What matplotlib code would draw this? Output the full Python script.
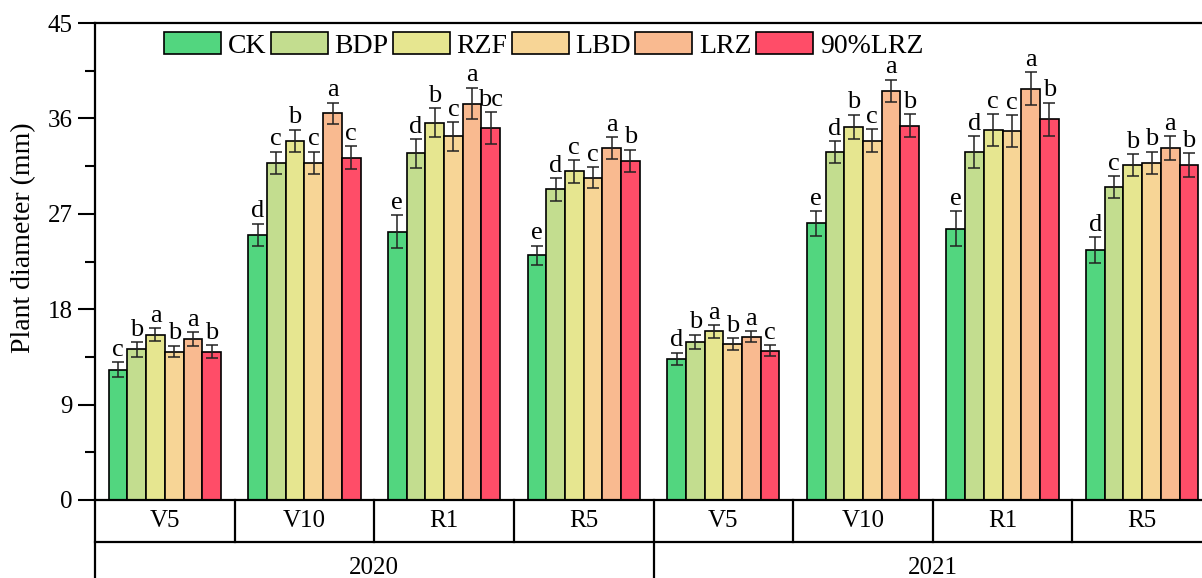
import numpy as np
import matplotlib
matplotlib.use("Agg")
import matplotlib.pyplot as plt
import matplotlib.transforms as mtransforms

plt.rcParams["font.family"] = ["Liberation Serif", "DejaVu Serif"]
plt.rcParams["mathtext.fontset"] = "stix"

# growth stages per year
stages = ["V5", "V10", "R1", "R5", "V5", "V10", "R1", "R5"]
years = ["2020", "2021"]
treatments = ["CK", "BDP", "RZF", "LBD", "LRZ", "90%LRZ"]

# plant diameter means (mm) per treatment, one value per stage/year group
ck = [12.3, 25.0, 25.3, 23.1, 13.3, 26.1, 25.6, 23.6]
bdp = [14.2, 31.8, 32.7, 29.3, 14.9, 32.8, 32.8, 29.5]
rzf = [15.6, 33.9, 35.6, 31.0, 15.9, 35.2, 34.9, 31.6]
lbd = [14.0, 31.8, 34.3, 30.4, 14.7, 33.9, 34.8, 31.8]
lrz = [15.2, 36.5, 37.4, 33.2, 15.4, 38.6, 38.8, 33.2]
lrz90 = [14.0, 32.3, 35.1, 32.0, 14.1, 35.3, 35.9, 31.6]

# standard deviations
ck_sd = [0.70, 1.05, 1.55, 0.90, 0.60, 1.15, 1.65, 1.20]
bdp_sd = [0.70, 1.05, 1.35, 1.05, 0.70, 1.05, 1.50, 1.05]
rzf_sd = [0.60, 1.05, 1.35, 1.05, 0.60, 1.15, 1.50, 1.05]
lbd_sd = [0.55, 1.05, 1.35, 1.00, 0.55, 1.10, 1.50, 1.05]
lrz_sd = [0.65, 1.00, 1.50, 1.00, 0.50, 1.05, 1.55, 1.10]
lrz90_sd = [0.60, 1.05, 1.50, 1.05, 0.50, 1.10, 1.60, 1.10]

# significance letters
ck_sig = ["c", "d", "e", "e", "d", "e", "e", "d"]
bdp_sig = ["b", "c", "d", "d", "b", "d", "d", "c"]
rzf_sig = ["a", "b", "b", "c", "a", "b", "c", "b"]
lbd_sig = ["b", "c", "c", "c", "b", "c", "c", "b"]
lrz_sig = ["a", "a", "a", "a", "a", "a", "a", "a"]
lrz90_sig = ["b", "c", "bc", "b", "c", "b", "b", "b"]

means = [ck, bdp, rzf, lbd, lrz, lrz90]
sds = [ck_sd, bdp_sd, rzf_sd, lbd_sd, lrz_sd, lrz90_sd]
sigs = [ck_sig, bdp_sig, rzf_sig, lbd_sig, lrz_sig, lrz90_sig]
colors = ["#52D67F", "#C3DD8F", "#E6E690", "#F7D596", "#F9BA90", "#FF4D68"]

fs = 18
W, H = 1202, 578
fig = plt.figure(figsize=(W / 100, H / 100), dpi=100)
ax = fig.add_axes([95 / W, 78 / H, (1212 - 95) / W, 477 / H])

x = np.arange(len(stages))
width = 0.134
for j, (m, sd, sig, c, name) in enumerate(zip(means, sds, sigs, colors, treatments)):
    pos = x + (j - 2.5) * width
    ax.bar(pos, m, width, color=c, edgecolor="black", linewidth=1.2, label=name, zorder=2)
    ax.errorbar(pos, m, yerr=sd, fmt="none", ecolor="#222222", elinewidth=1.1,
                capsize=4.3, capthick=1.1, zorder=3)
    for xi, yi, ei, s in zip(pos, m, sd, sig):
        ax.annotate(s, (xi, yi + ei), xytext=(0, 1), textcoords="offset points",
                    ha="center", va="bottom", fontsize=19)

ax.set_xlim(-0.5, 7.5)
ax.set_ylim(0, 45)
ax.set_yticks(np.arange(0, 46, 9))
ax.set_yticks(np.arange(0, 46, 4.5), minor=True)
ax.tick_params(axis="y", which="major", direction="out", length=12, width=1.5,
               labelsize=fs, pad=4)
ax.tick_params(axis="y", which="minor", direction="out", length=7, width=1.5)
ax.set_xticks([])
for sp in ax.spines.values():
    sp.set_linewidth(1.6)
ax.set_ylabel("Plant diameter (mm)", fontsize=20)
ax.yaxis.set_label_coords(-0.053, 262 / 477)

# two-level category axis below the plot
tr = mtransforms.blended_transform_factory(ax.transData, ax.transAxes)
row1 = -42 / 477
lk = dict(color="black", lw=1.6, transform=tr, clip_on=False)
ax.plot([-0.5, 7.5], [row1, row1], **lk)
ax.plot([-0.5, -0.5], [0, -0.3], **lk)
ax.plot([3.5, 3.5], [0, -0.3], **lk)
for b in [0.5, 1.5, 2.5, 4.5, 5.5, 6.5, 7.5]:
    ax.plot([b, b], [0, row1], **lk)
for xi, s in zip(x, stages):
    ax.text(xi, row1 / 2, s, transform=tr, ha="center", va="center", fontsize=fs)
for k, yr in enumerate(years):
    ax.text(1.5 + 4 * k, -68 / 477, yr, transform=tr, ha="center", va="center",
            fontsize=fs)

ax.legend(loc="upper left", bbox_to_anchor=(164 / W, 1 - 32 / H),
          bbox_transform=fig.transFigure, ncol=6, frameon=False, fontsize=20,
          handlelength=2.05, handleheight=0.83, handletextpad=0.25,
          columnspacing=0.15, borderpad=0, borderaxespad=0)

fig.savefig("out.png", dpi=100)
